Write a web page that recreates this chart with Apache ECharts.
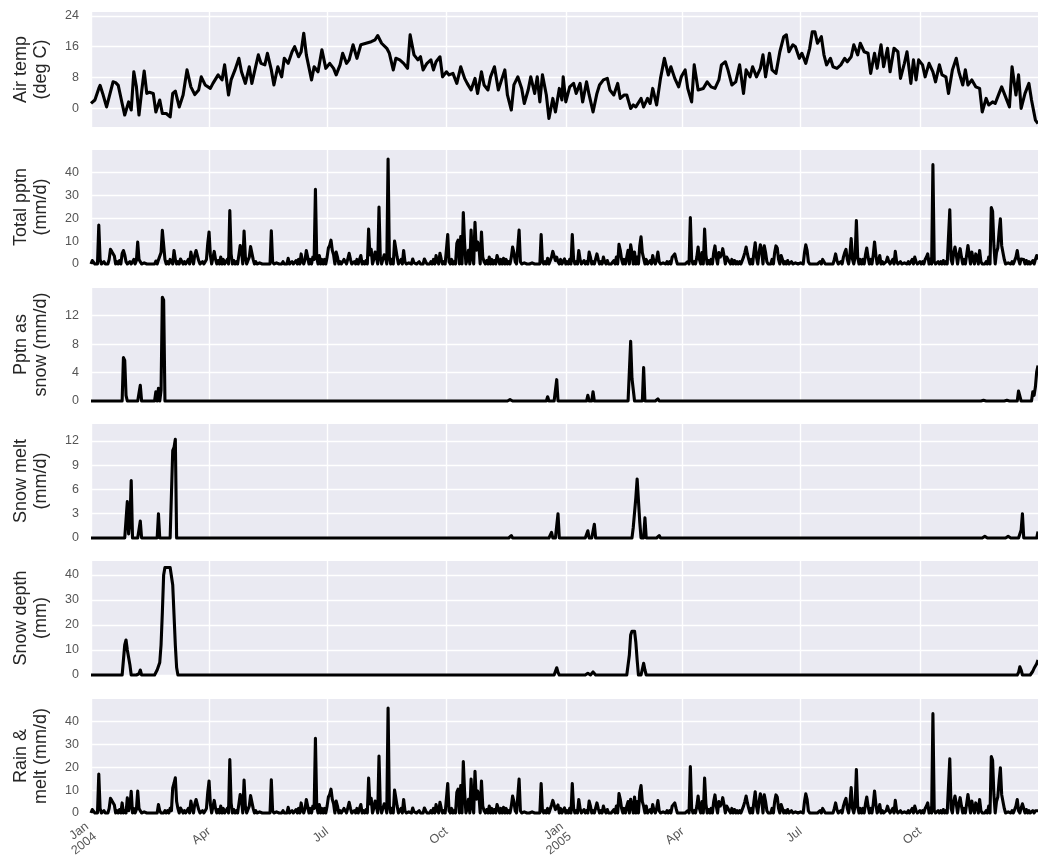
<!DOCTYPE html>
<html>
<head>
<meta charset="utf-8">
<script src="https://cdn.jsdelivr.net/npm/echarts@6/dist/echarts.min.js"></script>
<style>
  html, body { margin: 0; padding: 0; background: #fff; }
  #chart { width: 1038px; height: 861px; }
</style>
</head>
<body>
<div id="chart"></div>
<script>
// Daily hydro-meteorological series, 1 Jan 2004 to 31 Dec 2005.
// Day numbers count from 0 = 1 Jan 2004.
const NDAYS = 731;

const tickDays = [0, 91, 182, 274, 366, 456, 547, 639];
const tickLabels = ['Jan\n2004', 'Apr', 'Jul', 'Oct', 'Jan\n2005', 'Apr', 'Jul', 'Oct'];

// Air temperature (deg C), [day, value]
const tempC = [
  [0,1.3],[3,2.2],[6,5.2],[7,6],[9,3.9],[12,0.4],[13,1.7],[17,6.9],[19,6.7],[21,6],[24,1.3],[26,-1.7],
  [29,1.7],[31,-0.4],[33,9.5],[35,5.6],[37,-1.7],[39,4.3],[41,9.7],[43,3.9],[45,4.2],[48,3.9],[50,-0.9],
  [53,2.2],[55,-1.3],[58,-1.3],[61,-2.2],[63,3.9],[65,4.5],[68,0.4],[71,3.5],[74,10],[77,5.6],[80,3.6],
  [83,4.8],[85,8.2],[88,6.1],[92,5.2],[94,6.5],[98,8.7],[101,7.4],[103,11.3],[106,3.5],[108,7.4],[111,10],
  [114,13],[116,9.5],[119,6.5],[122,10.8],[124,6.5],[126,9.5],[129,13.9],[131,11.7],[134,11.3],[136,14.3],
  [139,10],[141,6.1],[144,10.8],[147,8.2],[149,13],[152,11.7],[155,14.7],[157,16],[160,13.4],[162,14.7],
  [164,19.5],[166,13.9],[170,7.4],[172,10.8],[175,9.5],[178,15.2],[181,10.4],[184,11.7],[187,10.4],[189,8.7],
  [192,11.3],[194,14.3],[197,11.7],[199,12.6],[202,16.5],[205,13],[208,16.5],[212,16.9],[216,17.3],[219,17.8],
  [221,18.9],[224,16.9],[228,15.6],[230,14.3],[233,10],[235,13],[238,12.6],[241,11.7],[244,10.4],[246,19.1],
  [249,13.9],[252,12.6],[254,13.4],[256,10],[259,11.7],[262,12.6],[264,10],[266,12.1],[269,13.4],[271,8.2],
  [274,9.5],[276,8.7],[279,9.1],[282,6.5],[285,10.8],[288,7.8],[290,6.5],[293,4.8],[296,7.8],[298,3.9],
  [301,9.5],[303,6.1],[306,4.8],[308,8.2],[311,10.8],[314,4.8],[316,6.9],[319,10],[321,3.5],[324,-0.4],
  [326,6.1],[329,8.2],[332,5.2],[334,1.3],[337,4.8],[339,8.2],[342,3.9],[344,8.2],[346,1.7],[348,8.7],
  [351,3.5],[353,-2.6],[356,2.6],[358,-0.9],[361,5.2],[363,2.2],[364,8.2],[366,1.7],[369,5.6],[372,6.5],
  [374,3.9],[377,6.5],[379,1.7],[382,6.9],[384,3.5],[387,-0.9],[390,3.9],[392,6.1],[395,7.4],[398,7.8],
  [400,4.8],[403,3.5],[406,6.5],[408,2.6],[411,3.5],[413,3.5],[416,0],[418,0.9],[420,0.4],[424,2.6],
  [426,0.4],[429,2.6],[431,1.3],[433,5.2],[436,0.9],[439,7.8],[442,13],[445,8.7],[447,10.8],[450,7.8],
  [453,5.6],[455,8.2],[458,10],[460,5.2],[463,1.7],[465,11.3],[468,4.8],[472,5.2],[475,6.9],[478,5.6],
  [481,5.2],[484,7.4],[486,11.3],[489,12.1],[491,10],[494,6.1],[497,6.9],[500,11.3],[503,3.9],[505,10],
  [508,8.2],[510,10.8],[513,8.2],[516,10.4],[518,13.9],[520,8.2],[523,14.3],[525,10],[528,9.1],[531,14.7],
  [534,18.6],[536,19.1],[538,14.7],[541,16.5],[543,16],[546,13],[548,14.3],[551,11.7],[554,15.6],[556,19.9],
  [558,19.9],[560,16.9],[563,18.6],[565,13.9],[567,11.3],[570,13],[572,10.8],[575,10.4],[578,11.3],[581,13],
  [583,12.1],[586,13.4],[588,16.5],[591,13.9],[593,16.9],[596,14.7],[599,14.3],[601,9.1],[604,14.3],[606,10.4],
  [609,16.5],[611,10.8],[614,15.6],[616,9.5],[619,15.6],[622,14.7],[624,7.8],[627,11.7],[629,14.7],[632,6.5],
  [634,12.6],[636,7.4],[638,12.6],[641,11.3],[643,8.2],[646,11.7],[649,9.5],[651,6.9],[654,11.3],[656,8.7],
  [659,8.2],[661,3.9],[664,10],[667,13],[669,9.5],[672,6.1],[674,10],[676,6.1],[679,7.4],[682,5.6],
  [685,5.2],[687,-0.9],[690,2.6],[692,0.9],[695,1.7],[697,1.3],[700,3.9],[702,5.6],[705,3],[708,0.4],
  [710,10.8],[713,3.5],[715,8.7],[717,0],[720,3.9],[723,6.5],[725,2.2],[728,-3],[730,-3.9]
];

// Total precipitation (mm/d) on wet days, [day, value]; other days are dry
const pptnEvents = [
  [1,1.5],[2,1],[6,17],[7,2],[10,1],[14,2],[15,6.4],[16,5.5],[17,4.9],[18,3.5],[20,1],[22,1.5],[24,4.5],
  [25,5.9],[26,4],[27,1],[30,1],[33,2],[35,1.5],[36,9.6],[37,2],[38,1],[41,0.5],[44,0.5],[48,0.5],[50,1.3],
  [52,1.8],[53,2],[54,5],[55,14.7],[56,14.2],[57,2],[59,1],[61,2],[62,1],[64,5.9],[65,2],[67,1],[69,2.2],
  [70,1.5],[72,1],[75,2],[77,5.2],[78,2],[80,4],[81,5.9],[82,3.7],[83,1.5],[86,1],[89,2],[90,9],[91,14],
  [92,4],[95,5.5],[96,2],[98,1.5],[100,3],[102,2],[105,2],[107,23.4],[108,4.4],[110,1.5],[112,1],[114,4],
  [115,8.1],[116,6],[118,14.4],[119,3],[121,1.5],[122,3],[123,7.6],[124,7],[125,2],[127,1],[130,0.5],
  [139,14.5],[140,1],[143,0.5],[148,1],[152,2.5],[155,1],[158,1.5],[160,2],[162,4.4],[163,1],[165,2],
  [166,5.9],[167,3],[169,2],[171,3],[172,2],[173,32.6],[174,3],[176,3.7],[178,2],[180,2],[182,3],[183,7],
  [184,8.1],[185,10.4],[186,6],[187,4],[189,5.2],[190,3],[192,1],[195,2],[196,1],[199,4.7],[200,2],[203,1],
  [205,2],[207,2],[208,3.7],[210,1],[212,1.5],[214,15.3],[215,4],[216,6.4],[218,2],[219,5.2],[220,3],
  [222,24.9],[223,3],[225,2],[226,4],[227,3],[229,45.9],[230,3],[232,2],[234,10],[235,10.8],[236,3],
  [239,2],[241,5.9],[242,1],[245,0.5],[248,2.2],[249,0.5],[253,1],[257,2.2],[258,1],[262,1],[264,2],
  [266,3.7],[267,1],[269,4.7],[270,2],[272,1],[275,12.9],[276,1],[278,2],[280,1],[282,9],[283,10.4],
  [285,12],[287,22.5],[288,9],[290,2],[291,6],[293,14.8],[294,3],[296,18.2],[297,6],[298,9.6],[299,8],
  [301,14],[302,3],[303,1],[305,1.5],[307,3],[309,2],[311,1.5],[313,3.7],[314,2],[316,2],[318,2.5],[320,2],
  [322,1],[324,3],[325,7.4],[326,5],[327,1],[330,14.8],[331,1],[334,0.5],[340,0.5],[347,12.9],[348,1],
  [350,1],[352,2.5],[355,3],[356,5.5],[357,3.5],[358,1.5],[359,3],[360,1],[362,2],
  [365,2.2],[367,1],[369,2],[371,12.9],[372,2],[374,1],[376,5.9],[377,2],[380,1.5],[382,1],[384,5.2],
  [385,3],[387,1],[390,4.4],[391,2],[393,1],[395,3],[396,1],[398,1.5],[400,0.5],[403,1.5],[405,3],
  [407,8.6],[408,6],[409,2],[411,2],[413,3],[414,6],[416,8.4],[417,5],[419,5.2],[421,3],[423,8],
  [424,11.9],[425,5],[426,4.7],[428,2],[431,1.5],[433,3.7],[434,1],[436,2],[437,5.2],[438,1],[441,0.5],
  [444,1],[446,1],[448,3],[449,3],[450,4.4],[451,2],[455,0.5],[460,1],[462,20.3],[463,2],[465,1],[467,3],
  [468,7.4],[469,2],[471,5],[473,15.3],[474,4],[476,1.5],[478,2],[480,5],[481,7.9],[482,3],[484,5],[485,3],
  [486,4],[487,6.7],[488,3.5],[490,3],[491,3.7],[492,1],[494,2],[496,1.5],[498,1],[500,1],[503,3],[504,5],
  [505,7.4],[506,4.4],[507,2],[509,2],[511,5],[512,9.3],[513,3],[515,5],[516,8.4],[517,6],[519,7.9],
  [520,5],[521,1],[525,2],[527,5],[528,7.9],[529,7],[530,2],[532,3.7],[533,2],[535,1],[537,1.5],[540,1],
  [543,0.5],[547,0.5],[550,5],[551,8.4],[552,6],[553,1],[557,0.5],[562,1],[564,2],[565,1],[569,0.5],
  [573,2],[574,4.4],[575,1.5],[578,1],[580,3],[581,5],[582,6.4],[583,2],[585,4],[586,11.1],[587,2],
  [589,3],[590,19],[591,3],[593,2],[595,2],[597,4],[598,7],[599,3],[601,2],[603,4],[604,9.6],[605,4],
  [607,1],[608,3.7],[610,1],[613,1],[614,3],[615,1],[618,2],[620,5.5],[621,1],[624,1],[627,0.5],[630,1],
  [633,2],[635,3],[636,1],[639,1],[641,1],[643,2],[644,3],[645,4.4],[647,2],[649,43.4],[650,1],[653,1],
  [655,1],[657,1.5],[659,1],[662,23.7],[663,2],[665,5],[666,7.4],[667,4],[669,4],[670,6.7],[671,3],
  [673,2],[675,4],[676,8.1],[677,4],[679,5.2],[680,2],[682,4.4],[683,3],[685,5.9],[686,1],[688,0.5],
  [690,1],[692,3],[694,24.7],[695,23],[696,8],[698,5],[699,7],[700,14],[701,19.7],[702,8],[703,7.4],
  [704,2],[707,0.5],[710,1],[713,3],[714,5.9],[715,2],[717,2.2],[718,1.5],[719,2],[721,1.5],[723,1],
  [726,1.5],[728,2],[729,3.7],[730,2]
];

// Precipitation falling as snow (mm/d)
const snowEvents = [
  [25,6.1],[26,5.7],[27,0.8],[38,2.2],[50,1.3],[52,1.8],[54,1.5],[55,14.6],[56,14.2],
  [323,0.2],[352,0.6],[359,3],[383,0.8],[387,1.3],[416,8.4],[417,3.2],[418,3],[426,4.7],[437,0.3],
  [688,0.1],[706,0.1],[715,1.4],[716,1.5],[726,1.3],[727,0.8],[728,2],[729,4.1],[730,5]
];

// Snow melt (mm/d)
const meltEvents = [
  [28,4.5],[29,0.5],[30,2],[31,7.1],[38,2.1],[52,3],[63,10.8],[64,11.2],[65,12.2],
  [324,0.3],[355,0.7],[360,3],[383,0.9],[388,1.7],[418,1.3],[419,1.5],[420,5],[421,7.3],[422,7.2],
  [423,2],[427,2.5],[438,0.3],[689,0.2],[707,0.2],[717,1],[718,3],[730,0.8]
];

// Snow depth (mm)
const depthEvents = [
  [25,6],[26,12],[27,14],[28,10],[29,9.5],[30,4],[37,0.5],[38,2],[50,1],[51,2],[52,2.5],[53,5],
  [54,12],[55,25],[56,40],[57,43],[58,43],[59,43],[60,43],[61,43],[62,43],[63,36],[64,24],[65,12],[66,3],
  [352,0.7],[359,2.9],[360,1],[383,0.7],[387,1.2],[388,1.6],[415,8],[416,16],[417,17.5],[418,18],
  [419,17.5],[420,13],[421,6],[426,4.7],[427,2],[715,1],[716,3.3],[717,2],[726,1.5],[727,2.7],
  [728,3],[729,4.5],[730,6]
];

// Rain plus snow melt (mm/d)
const rainMeltEvents = [
  [1,1.5],[2,1],[6,17],[7,2],[10,1],[14,2],[15,6.4],[16,5.5],[17,4.9],[18,3.5],[20,1],[22,1.5],[24,4.4],
  [26,1],[28,6.6],[29,1],[30,3],[31,9.5],[33,2],[35,1.5],[36,9.6],[37,2],[38,2.1],[41,0.5],[44,0.5],
  [48,0.5],[50,0.5],[52,3.7],[53,1],[57,1],[59,1],[61,2],[62,1],[63,11],[64,13],[65,15.4],[66,5],[67,2],
  [69,2.2],[70,1.5],[72,1],[75,2],[77,5.2],[78,2],[80,4],[81,5.9],[82,3.7],[83,1.5],[86,1],[89,2],[90,9],
  [91,14],[92,4],[95,5.5],[96,2],[98,1.5],[100,3],[102,2],[105,2],[107,23.4],[108,4.4],[110,1.5],[112,1],
  [114,4],[115,8.1],[116,6],[118,14.4],[119,3],[121,1.5],[122,3],[123,7.6],[124,7],[125,2],[127,1],
  [130,0.5],[139,14.5],[140,1],[143,0.5],[148,1],[152,2.5],[155,1],[158,1.5],[160,2],[162,4.4],[163,1],
  [165,2],[166,5.9],[167,3],[169,2],[171,3],[172,2],[173,32.6],[174,3],[176,3.7],[178,2],[180,2],[182,3],
  [183,7],[184,8.1],[185,10.4],[186,6],[187,4],[189,5.2],[190,3],[192,1],[195,2],[196,1],[199,4.7],
  [200,2],[203,1],[205,2],[207,2],[208,3.7],[210,1],[212,1.5],[214,15.3],[215,4],[216,6.4],[218,2],
  [219,5.2],[220,3],[222,24.9],[223,3],[225,2],[226,4],[227,3],[229,45.9],[230,3],[232,2],[234,10],
  [235,10.8],[236,3],[239,2],[241,5.9],[242,1],[245,0.5],[248,2.2],[249,0.5],[253,1],[257,2.2],[258,1],
  [262,1],[264,2],[266,3.7],[267,1],[269,4.7],[270,2],[272,1],[275,12.9],[276,1],[278,2],[280,1],[282,9],
  [283,10.4],[285,12],[287,22.5],[288,9],[290,2],[291,6],[293,14.8],[294,3],[296,18.2],[297,6],
  [298,9.6],[299,8],[301,14],[302,3],[303,1],[305,1.5],[307,3],[309,2],[311,1.5],[313,3.7],[314,2],
  [316,2],[318,2.5],[320,2],[322,1],[324,3],[325,7.4],[326,5],[327,1],[330,14.8],[331,1],[334,0.5],
  [340,0.5],[347,12.9],[348,1],[350,1],[352,2],[355,3.5],[356,5.5],[357,3.5],[358,1.5],[359,1],[360,3.5],
  [362,2],[365,2.2],[367,1],[369,2],[371,12.9],[372,2],[374,1],[376,5.9],[377,2],[380,1.5],[382,1],
  [384,5.2],[385,3],[387,1],[390,4.4],[391,2],[393,1],[395,3],[396,1],[398,1.5],[400,0.5],[403,1.5],
  [405,3],[407,8.5],[408,6],[409,2],[411,2],[413,3],[414,5],[416,6],[417,3],[419,7],[421,5],[423,9],
  [424,12],[425,5],[426,3],[428,3],[431,1.5],[433,3.7],[434,1],[436,2],[437,5.4],[438,1],[441,0.5],
  [444,1],[446,1],[448,3],[449,3],[450,4.4],[451,2],[455,0.5],[460,1],[462,20.3],[463,2],[465,1],[467,3],
  [468,7.4],[469,2],[471,5],[473,15.3],[474,4],[476,1.5],[478,2],[480,5],[481,7.9],[482,3],[484,5],[485,3],
  [486,4],[487,6.7],[488,3.5],[490,3],[491,3.7],[492,1],[494,2],[496,1.5],[498,1],[500,1],[503,3],[504,5],
  [505,7.4],[506,4.4],[507,2],[509,2],[511,5],[512,9.3],[513,3],[515,5],[516,8.4],[517,6],[519,7.9],
  [520,5],[521,1],[525,2],[527,5],[528,7.9],[529,7],[530,2],[532,3.7],[533,2],[535,1],[537,1.5],[540,1],
  [543,0.5],[547,0.5],[550,5],[551,8.4],[552,6],[553,1],[557,0.5],[562,1],[564,2],[565,1],[569,0.5],
  [573,2],[574,4.4],[575,1.5],[578,1],[580,3],[581,5],[582,6.4],[583,2],[585,4],[586,11.1],[587,2],
  [589,3],[590,19],[591,3],[593,2],[595,2],[597,4],[598,7],[599,3],[601,2],[603,4],[604,9.6],[605,4],
  [607,1],[608,3.7],[610,1],[613,1],[614,3],[615,1],[618,2],[620,5.5],[621,1],[624,1],[627,0.5],[630,1],
  [633,2],[635,3],[636,1],[639,1],[641,1],[643,2],[644,3],[645,4.4],[647,2],[649,43.4],[650,1],[653,1],
  [655,1],[657,1.5],[659,1],[662,23.7],[663,2],[665,5],[666,7.4],[667,4],[669,4],[670,6.7],[671,3],
  [673,2],[675,4],[676,8.1],[677,4],[679,5.2],[680,2],[682,4.4],[683,3],[685,5.9],[686,1],[688,0.5],
  [690,1],[692,3],[694,24.7],[695,23],[696,8],[698,5],[699,7],[700,14],[701,19.7],[702,8],[703,7.4],
  [704,2],[707,0.5],[710,1],[713,3],[714,5.9],[715,1],[717,2.2],[718,4],[719,2],[721,1.5],[723,1],
  [726,1],[728,1],[729,1.5],[730,1]
];

// Expand a list of non-zero days into a full daily record
function dailySeries(events) {
  const values = new Array(NDAYS).fill(0);
  events.forEach(([day, v]) => { values[day] = v; });
  return values.map((v, day) => [day, v]);
}

const panels = [
  { name: 'Air temp\n(deg C)',      data: tempC,                        min: -4.8, max: 25,   ticks: [0, 8, 16, 24] },
  { name: 'Total pptn\n(mm/d)',     data: dailySeries(pptnEvents),      min: 0,    max: 49.8, ticks: [0, 10, 20, 30, 40] },
  { name: 'Pptn as\nsnow (mm/d)',   data: dailySeries(snowEvents),      min: 0,    max: 15.9, ticks: [0, 4, 8, 12] },
  { name: 'Snow melt\n(mm/d)',      data: dailySeries(meltEvents),      min: 0,    max: 14.1, ticks: [0, 3, 6, 9, 12] },
  { name: 'Snow depth\n(mm)',       data: dailySeries(depthEvents),     min: 0,    max: 45.6, ticks: [0, 10, 20, 30, 40] },
  { name: 'Rain &\nmelt (mm/d)',    data: dailySeries(rainMeltEvents),  min: 0,    max: 49.8, ticks: [0, 10, 20, 30, 40] }
];

const gridTops = [12, 150, 288, 424, 561, 699];
const gridHeights = [115, 114, 113, 114, 114, 114];

const FONT = '"Liberation Sans", Arial, "DejaVu Sans", sans-serif';
const PANEL_BG = '#EAEAF2';

const grids = [], xAxes = [], yAxes = [], series = [];
panels.forEach((p, i) => {
  const last = i === panels.length - 1;
  grids.push({
    left: 91, width: 948, top: gridTops[i], height: gridHeights[i],
    show: true, backgroundColor: PANEL_BG, borderWidth: 0
  });
  xAxes.push({
    type: 'value', gridIndex: i, min: 0, max: 730,
    axisLine: { show: false },
    axisTick: { show: false, customValues: tickDays },
    splitLine: { show: true, lineStyle: { color: '#ffffff', width: 1.4 } },
    axisLabel: {
      show: last,
      customValues: tickDays,
      rotate: 38,
      margin: 17,
      fontSize: 12.5,
      lineHeight: 13,
      color: '#555555',
      fontFamily: FONT,
      formatter: v => tickLabels[tickDays.indexOf(v)] || ''
    }
  });
  yAxes.push({
    type: 'value', gridIndex: i, min: p.min, max: p.max,
    name: p.name,
    nameLocation: 'middle',
    nameRotate: 90,
    nameGap: 40,
    nameTextStyle: { fontSize: 18, lineHeight: 20, color: '#262626', fontFamily: FONT },
    axisLine: { show: false },
    axisTick: { show: false, customValues: p.ticks },
    axisLabel: { customValues: p.ticks, margin: 12, fontSize: 12.5, color: '#555555', fontFamily: FONT },
    splitLine: { show: true, lineStyle: { color: '#ffffff', width: 1.4 } }
  });
  series.push({
    type: 'line', xAxisIndex: i, yAxisIndex: i,
    data: p.data,
    showSymbol: false,
    clip: false,
    lineStyle: { color: '#000000', width: 3.1, join: 'round' },
    emphasis: { disabled: true }
  });
});

const chart = echarts.init(document.getElementById('chart'), null, { renderer: 'canvas' });
chart.setOption({
  animation: false,
  backgroundColor: '#ffffff',
  grid: grids,
  xAxis: xAxes,
  yAxis: yAxes,
  series: series
});
</script>
</body>
</html>
